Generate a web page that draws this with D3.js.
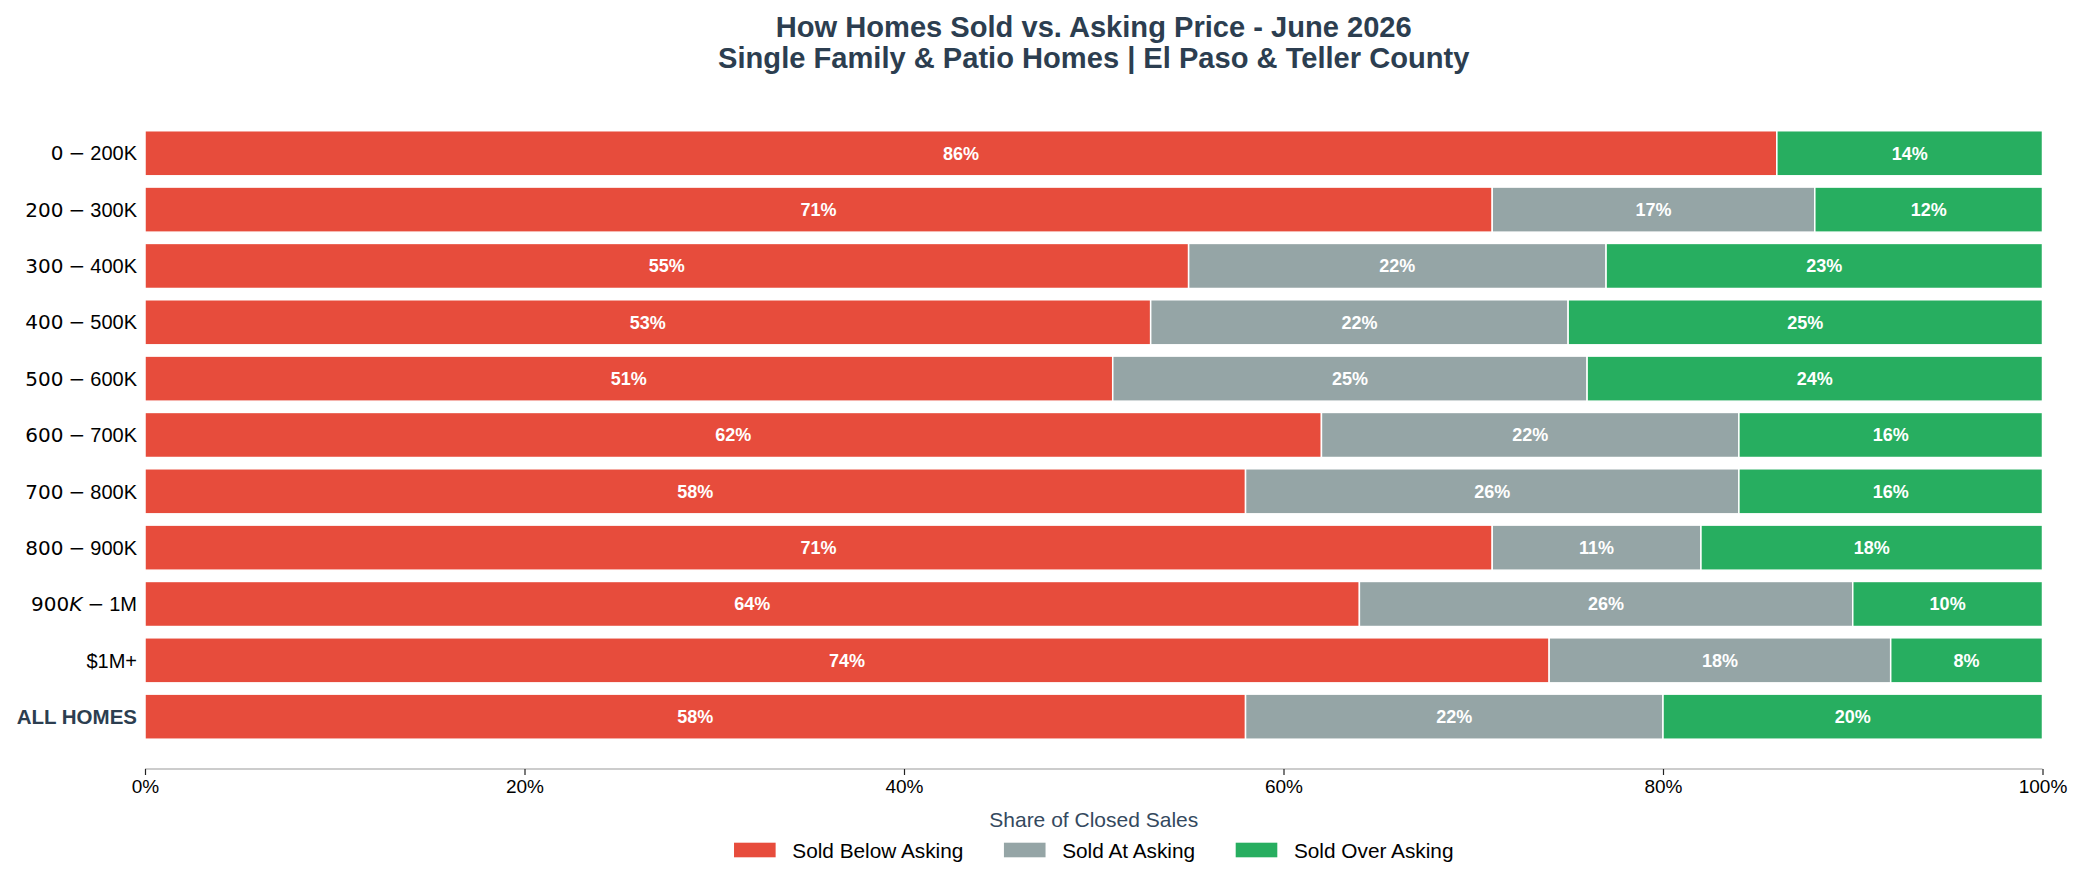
<!DOCTYPE html>
<html>
<head>
<meta charset="utf-8">
<script src="https://cdn.jsdelivr.net/npm/d3@7"></script>
<style>
  html, body { margin: 0; padding: 0; background: #ffffff; }
  svg { display: block; }
</style>
</head>
<body>
<svg id="chart" width="2085" height="884"></svg>
<script>
// ---------------- DATA ----------------
const categories = ["$0-$200K", "$200-$300K", "$300-$400K", "$400-$500K", "$500-$600K",
  "$600-$700K", "$700-$800K", "$800-$900K", "$900K-$1M", "$1M+", "ALL HOMES"];
const soldBelow = [86, 71, 55, 53, 51, 62, 58, 71, 64, 74, 58];
const soldAt    = [0, 17, 22, 22, 25, 22, 26, 11, 26, 18, 22];
const soldOver  = [14, 12, 23, 25, 24, 16, 16, 18, 10, 8, 20];
const seriesNames = ["Sold Below Asking", "Sold At Asking", "Sold Over Asking"];
const seriesColors = ["#e74c3c", "#95a5a6", "#27ae60"];
const xTicks = [0, 20, 40, 60, 80, 100];
const titleLines = ["How Homes Sold vs. Asking Price - June 2026",
  "Single Family & Patio Homes | El Paso & Teller County"];
const xAxisTitle = "Share of Closed Sales";

// ---------------- LAYOUT ----------------
const W = 2085, H = 884;
const plotLeft = 145, plotRight = 2042.5;
const bandTop = 125.1, step = 56.34;
const axisY = 769;
const FONT = "'Liberation Sans', Arial, Helvetica, sans-serif";
const MATHFONT = "'DejaVu Sans', sans-serif";
const DARK = "#2c3e50";

const svg = d3.select("#chart");
svg.append("rect").attr("width", W).attr("height", H).attr("fill", "#fff");

const x = d3.scaleLinear().domain([0, 100]).range([plotLeft, plotRight]);
const y = d3.scaleBand().domain(categories)
  .range([bandTop, bandTop + step * categories.length])
  .paddingInner(0.2).paddingOuter(0.1);

// stack
const rows = categories.map((c, i) => ({ cat: c, v: [soldBelow[i], soldAt[i], soldOver[i]] }));
const segs = [];
rows.forEach(r => {
  let acc = 0;
  r.v.forEach((val, k) => {
    segs.push({ cat: r.cat, k, x0: acc, x1: acc + val, val });
    acc += val;
  });
});

const gBars = svg.append("g");
gBars.selectAll("rect").data(segs.filter(d => d.val > 0)).join("rect")
  .attr("x", d => x(d.x0))
  .attr("width", d => x(d.x1) - x(d.x0))
  .attr("y", d => y(d.cat))
  .attr("height", y.bandwidth())
  .attr("fill", d => seriesColors[d.k])
  .attr("stroke", "#ffffff")
  .attr("stroke-width", 1.5);

gBars.selectAll("text").data(segs.filter(d => d.val > 0)).join("text")
  .attr("x", d => (x(d.x0) + x(d.x1)) / 2)
  .attr("y", d => y(d.cat) + y.bandwidth() / 2)
  .attr("dy", "0.36em")
  .attr("text-anchor", "middle")
  .attr("font-family", FONT)
  .attr("font-weight", "bold")
  .attr("font-size", "18px")
  .attr("fill", "#ffffff")
  .text(d => d.val + "%");

// ---------------- X AXIS ----------------
const xAxis = d3.axisBottom(x).tickValues(xTicks).tickFormat(d => d + "%").tickSize(6).tickPadding(5);
const gx = svg.append("g").attr("transform", `translate(0,${axisY})`).call(xAxis);
gx.select(".domain").attr("stroke", "#cccccc").attr("stroke-width", 2)
  .attr("d", `M${plotLeft},0H${plotRight}`);
gx.selectAll(".tick line").attr("stroke", "#222").attr("stroke-width", 1.2);
gx.selectAll(".tick text").attr("font-family", FONT).attr("font-size", "19px").attr("fill", "#000");

svg.append("text")
  .attr("x", (plotLeft + plotRight) / 2).attr("y", 827)
  .attr("text-anchor", "middle")
  .attr("font-family", FONT).attr("font-size", "21px").attr("fill", "#34495e")
  .text(xAxisTitle);

// ---------------- Y LABELS (mathtext-like parsing) ----------------
function parseMath(label) {
  const parts = label.split("$");
  const nDollar = parts.length - 1;
  if (nDollar < 2) return [{ text: label, math: false }];
  const out = [];
  parts.forEach((p, i) => {
    if (p === "") return;
    out.push({ text: p, math: i % 2 === 1 });
  });
  return out;
}

const gy = svg.append("g");
categories.forEach(c => {
  const t = gy.append("text")
    .attr("x", 137)
    .attr("y", y(c) + y.bandwidth() / 2)
    .attr("dy", "0.36em")
    .attr("text-anchor", "end")
    .attr("font-family", FONT);
  if (c === "ALL HOMES") {
    t.attr("font-weight", "bold").attr("font-size", "20.5px").attr("fill", DARK).text(c);
    return;
  }
  t.attr("font-size", "20px").attr("fill", "#000");
  parseMath(c).forEach(seg => {
    if (!seg.math) {
      t.append("tspan").text(seg.text);
    } else {
      for (const ch of seg.text) {
        if (ch === "-") {
          t.append("tspan").attr("font-family", MATHFONT).text("\u2005\u2212\u2005");
        } else if (/[A-Za-z]/.test(ch)) {
          t.append("tspan").attr("font-family", MATHFONT).attr("font-style", "italic").text(ch);
        } else {
          t.append("tspan").attr("font-family", MATHFONT).text(ch);
        }
      }
    }
  });
});

// ---------------- TITLE ----------------
const cx = (plotLeft + plotRight) / 2;
[36.7, 68.3].forEach((by, i) => {
  svg.append("text")
    .attr("x", cx).attr("y", by)
    .attr("text-anchor", "middle")
    .attr("font-family", FONT).attr("font-weight", "bold")
    .attr("font-size", "29.1px").attr("fill", DARK)
    .text(titleLines[i]);
});

// ---------------- LEGEND ----------------
const fs = 20.8;
const handleLen = 2 * fs, handlePad = 0.8 * fs, colSpace = 1.95 * fs;
const legend = svg.append("g");
let cursor = 0;
seriesNames.forEach((name, k) => {
  const g = legend.append("g");
  g.append("rect").attr("x", cursor).attr("y", -7.3).attr("width", handleLen).attr("height", 14.6)
    .attr("fill", seriesColors[k]);
  const tx = g.append("text").attr("x", cursor + handleLen + handlePad).attr("y", 0).attr("dy", "0.36em")
    .attr("font-family", FONT).attr("font-size", fs + "px").attr("fill", "#000").text(name);
  const w = tx.node().getComputedTextLength();
  cursor += handleLen + handlePad + w + colSpace;
});
const totalW = cursor - colSpace;
legend.attr("transform", `translate(${cx - totalW / 2},850)`);
</script>
</body>
</html>
